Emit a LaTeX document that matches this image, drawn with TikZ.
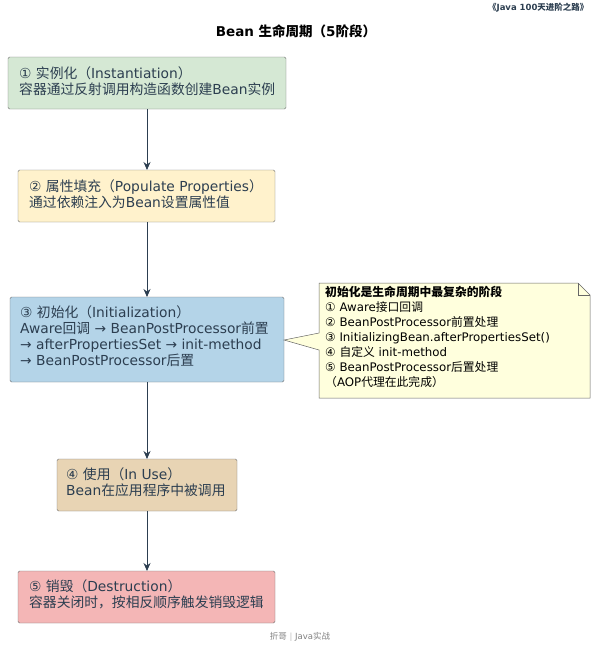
\documentclass[tikz,border=0pt]{standalone}
\usepackage{fontspec}
\setmainfont{DejaVu Sans}
\newfontfamily\cjk{Noto Sans CJK SC}
\newcommand{\zh}[1]{{\cjk #1}}
\usetikzlibrary{arrows.meta}
\begin{document}
\begin{tikzpicture}[x=1pt,y=-1pt,
  box/.style={anchor=north west,align=left,inner sep=0pt,text=tc,font=\fontsize{13.8}{16}\selectfont},
  arr/.style={draw=tc,line width=0.8pt,-{Stealth[length=8pt,width=7pt]}}]
\definecolor{tc}{HTML}{2C3E50}
\useasboundingbox (0,0) rectangle (602,648);
\node[anchor=north east,font=\bfseries\fontsize{8.5}{9}\selectfont,text=tc] (hdr) at (592,0) {\zh{《}Java 100\zh{天进阶之路》}};
\node[font=\bfseries\fontsize{13.5}{15}\selectfont] (ttl) at (296,31) {Bean \zh{生命周期（}5\zh{阶段）}};
\filldraw[fill={rgb,255:red,213;green,232;blue,212},draw=black!55,rounded corners=1.5pt] (8,57) rectangle (286,109);
\node[box] (a) at (19,66) {① \zh{实例化（}Instantiation\zh{）}\\\zh{容器通过反射调用构造函数创建}Bean\zh{实例}};
\coordinate (a1) at (147,109);
\filldraw[fill={rgb,255:red,255;green,242;blue,204},draw=black!55,rounded corners=1.5pt] (18,170) rectangle (275,222);
\node[box] (b) at (29,179) {② \zh{属性填充（}Populate Properties\zh{）}\\\zh{通过依赖注入为}Bean\zh{设置属性值}};
\coordinate (b0) at (147,170); \coordinate (b1) at (147,222);
\filldraw[fill={rgb,255:red,180;green,212;blue,232},draw=black!55,rounded corners=1.5pt] (10,297) rectangle (284,382);
\node[box] (c) at (20,305) {③ \zh{初始化（}Initialization\zh{）}\\Aware\zh{回调} → BeanPostProcessor\zh{前置}\\→ afterPropertiesSet → init-method\\→ BeanPostProcessor\zh{后置}};
\coordinate (c0) at (147,297); \coordinate (c1) at (147,382);
\filldraw[fill={rgb,255:red,232;green,212;blue,180},draw=black!55,rounded corners=1.5pt] (57,459) rectangle (237,511);
\node[box] (d) at (66,467) {④ \zh{使用（}In Use\zh{）}\\Bean\zh{在应用程序中被调用}};
\coordinate (d0) at (147,459); \coordinate (d1) at (147,511);
\filldraw[fill={rgb,255:red,244;green,182;blue,182},draw=black!55,rounded corners=1.5pt] (18,571) rectangle (275,623);
\node[box] (e) at (29,579) {⑤ \zh{销毁（}Destruction\zh{）}\\\zh{容器关闭时，按相反顺序触发销毁逻辑}};
\coordinate (e0) at (147,571);
\draw[arr] (a1) -- (b0);
\draw[arr] (b1) -- (c0);
\draw[arr] (c1) -- (d0);
\draw[arr] (d1) -- (e0);
% note
\filldraw[fill={rgb,255:red,255;green,255;blue,221},draw=black!60,line width=0.5pt]
 (319,283) -- (578,283) -- (590,295) -- (590,398) -- (319,398) -- (319,350) -- (284,340) -- (319,333) -- cycle;
\draw[black!60,line width=0.5pt] (578,283) -- (578,295) -- (590,295);
\node[anchor=north west,align=left,inner sep=0pt,font=\fontsize{11.8}{15}\selectfont] (n) at (325,286)
{\textbf{\zh{初始化是生命周期中最复杂的阶段}}\\① Aware\zh{接口回调}\\② BeanPostProcessor\zh{前置处理}\\③ InitializingBean.afterPropertiesSet()\\④ \zh{自定义} init-method\\⑤ BeanPostProcessor\zh{后置处理}\\\zh{（}AOP\zh{代理在此完成）}};
\node[font=\fontsize{8.5}{9}\selectfont,text=black!50] (ft) at (300,637) {\zh{折哥} {\color{black!25}|} Java\zh{实战}};
\end{tikzpicture}
\end{document}
